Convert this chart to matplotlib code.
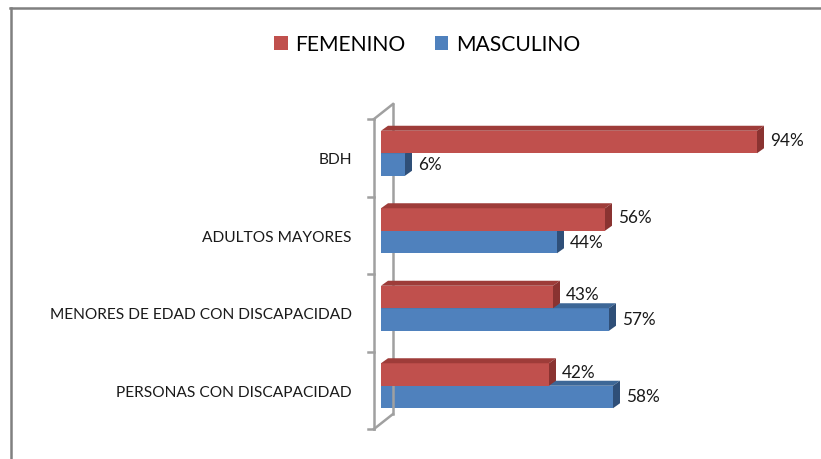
import numpy as np
import matplotlib
matplotlib.use('Agg')
import matplotlib.pyplot as plt
from matplotlib.patches import Polygon, Patch
from matplotlib.lines import Line2D
import matplotlib.transforms as mtransforms

# datos (de abajo hacia arriba)
categorias = ['PERSONAS CON DISCAPACIDAD', 'MENORES DE EDAD CON DISCAPACIDAD',
              'ADULTOS MAYORES', 'BDH']
femenino = [42, 43, 56, 94]
masculino = [58, 57, 44, 6]
series = ['FEMENINO', 'MASCULINO']

# colores tipo Excel (frente, techo, lado)
rojo = ('#C0504D', '#9E3C39', '#8A3331')
azul = ('#4F81BD', '#3D6797', '#2F4F78')

W, H = 821, 460
plt.rcParams['font.family'] = ['Lato', 'DejaVu Sans']

fig = plt.figure(figsize=(W / 100, H / 100), dpi=100)
ax = fig.add_axes([381 / W, 1 - 430 / H, 400 / W, 310 / H])
ax.set_xlim(0, 100)
ax.set_ylim(-0.5, len(categorias) - 0.5)

# profundidad 3D en pixeles -> unidades de datos
px_x = 100 / 400.0
px_y = len(categorias) / 310.0
dx, dy = 7 * px_x, 5 * px_y

alto = 22.5 * px_y
corte = 4.5 * px_y
y = np.arange(len(categorias))


def barra_3d(y0, v, cols, z):
    ax.barh(y0, v, height=alto, align='edge', color=cols[0], zorder=z)
    y1 = y0 + alto
    techo = Polygon([(0, y1), (v, y1), (v + dx, y1 + dy), (dx, y1 + dy)],
                    closed=True, facecolor=cols[1], edgecolor='none', zorder=z)
    lado = Polygon([(v, y0), (v + dx, y0 + dy), (v + dx, y1 + dy), (v, y1)],
                   closed=True, facecolor=cols[2], edgecolor='none', zorder=z)
    ax.add_patch(techo)
    ax.add_patch(lado)


for i in range(len(categorias)):
    # masculino primero (queda detras), luego femenino
    barra_3d(y[i] + corte - alto, masculino[i], azul, 2 + i * 2)
    barra_3d(y[i] + corte, femenino[i], rojo, 3 + i * 2)
    ax.text(femenino[i] + 13 * px_x, y[i] + corte + alto / 2 + dy / 2,
            '%d%%' % femenino[i], va='center', ha='left', fontsize=12.3, color='#1a1a1a')
    ax.text(masculino[i] + 13 * px_x, y[i] + corte - alto / 2 + dy / 2 - 2 * px_y,
            '%d%%' % masculino[i], va='center', ha='left', fontsize=12.3, color='#1a1a1a')

# ejes
ax.set_yticks(y)
ax.set_yticklabels(categorias, fontsize=11.2, color='#1a1a1a')
ax.tick_params(axis='y', length=0, pad=21)
ax.set_xticks([])
for s in ax.spines.values():
    s.set_visible(False)

# pared 3D del eje
gris = '#A0A0A0'


def off(px, py):
    return ax.transAxes + mtransforms.ScaledTranslation(px / 100, py / 100, fig.dpi_scale_trans)


ax.add_line(Line2D([0, 0], [0, 1], color=gris, lw=1.8, transform=off(-7, 0), clip_on=False))
ax.add_line(Line2D([0, 0], [0, 1], color=gris, lw=1.8, transform=off(12, 15), clip_on=False))
ax.add_line(Line2D([0, 19 / 400], [1, 1 + 15 / 310], color=gris, lw=1.8, transform=off(-7, 0), clip_on=False))
ax.add_line(Line2D([0, 19 / 400], [0, 15 / 310], color=gris, lw=1.8, transform=off(-7, 0), clip_on=False))
for k in range(len(categorias) + 1):
    t = k / len(categorias)
    ax.add_line(Line2D([-6 / 400, 0], [t, t], color=gris, lw=1.8, transform=off(-7, 0), clip_on=False))

# leyenda
handles = [Patch(facecolor=rojo[0]), Patch(facecolor=azul[0])]
fig.legend(handles, series, loc='center', bbox_to_anchor=(427 / W, 1 - 45 / H), ncol=2,
           frameon=False, fontsize=15.2, handlelength=0.65, handleheight=0.65,
           handletextpad=0.35, columnspacing=1.4)

# borde del grafico
fig.add_artist(Line2D([10 / W, 1], [1 - 9 / H, 1 - 9 / H], color='#808080', lw=1.8))
fig.add_artist(Line2D([11 / W, 11 / W], [0, 1 - 9 / H], color='#808080', lw=1.8))

fig.savefig('out.png', dpi=100)
